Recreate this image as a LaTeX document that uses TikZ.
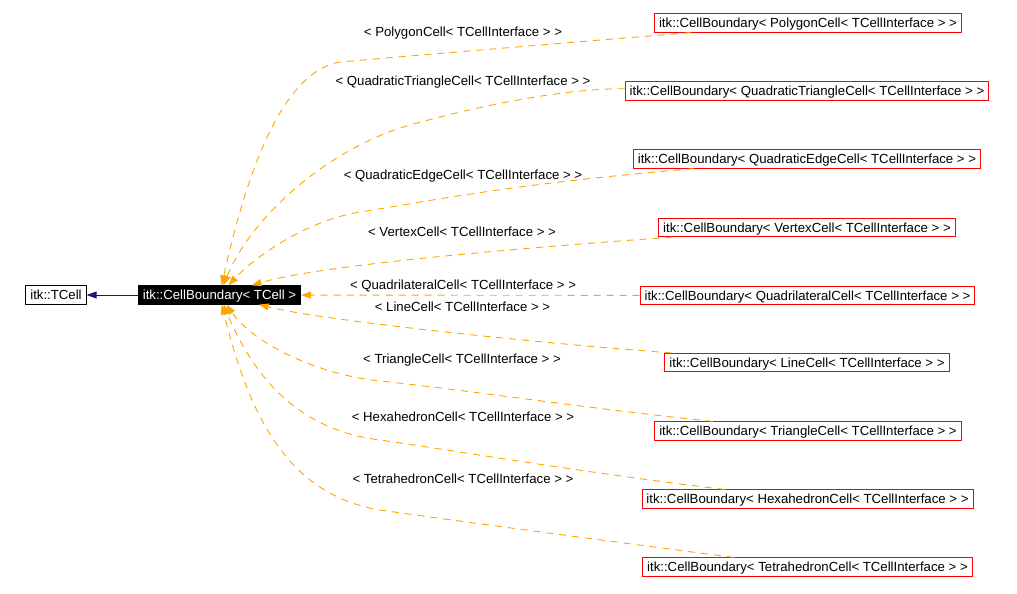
\documentclass[tikz,border=0pt]{standalone}
\usepackage{fontspec}
\setmainfont{Liberation Sans}
\usetikzlibrary{arrows.meta}
\definecolor{edgeorange}{HTML}{FFA500}
\definecolor{inhblue}{HTML}{191970}
\tikzset{
    basebox/.style={draw=black, rectangle, fill=white, font=\fontsize{13.2}{15}\selectfont, inner xsep=4.5pt, inner ysep=0pt, minimum height=18.3pt, text height=9.5pt, text depth=0pt, line width=0.9pt},
    mainbox/.style={basebox, fill=black, text=white},
    instbox/.style={basebox, draw=red},
    edgelabel/.style={font=\fontsize{13.2}{15}\selectfont, inner sep=0pt, text height=9.5pt, text depth=0pt},
    tmplArrow/.style={draw=edgeorange, line width=0.9pt, dash pattern=on 7pt off 6pt, -{Triangle[length=10pt, width=7pt, fill=edgeorange]}},
    inhArrow/.style={draw=inhblue, line width=0.9pt, -{Triangle[length=10pt, width=7pt, fill=inhblue]}},
}

\begin{document}
\begin{tikzpicture}[x=1pt, y=-1pt]
\useasboundingbox (0,0) rectangle (1017,594);

% base classes
\node[basebox] (tcell) at (56,295) {itk::TCell};
\node[mainbox] (cb) at (219.5,295) {itk::CellBoundary< TCell >};
\draw[inhArrow] (cb) -- (tcell);

% instantiations
\node[instbox] (poly) at (808,23) {itk::CellBoundary< PolygonCell< TCellInterface > >};
\node[instbox] (qtri) at (807,91) {itk::CellBoundary< QuadraticTriangleCell< TCellInterface > >};
\node[instbox] (qedge) at (807,159) {itk::CellBoundary< QuadraticEdgeCell< TCellInterface > >};
\node[instbox] (vertex) at (807,227.5) {itk::CellBoundary< VertexCell< TCellInterface > >};
\node[instbox] (quad) at (807.5,295.5) {itk::CellBoundary< QuadrilateralCell< TCellInterface > >};
\node[instbox] (line) at (807,362.5) {itk::CellBoundary< LineCell< TCellInterface > >};
\node[instbox] (tri) at (808,431) {itk::CellBoundary< TriangleCell< TCellInterface > >};
\node[instbox] (hexa) at (807.5,499) {itk::CellBoundary< HexahedronCell< TCellInterface > >};
\node[instbox] (tetra) at (807.5,567) {itk::CellBoundary< TetrahedronCell< TCellInterface > >};

% template edges
\draw[tmplArrow] (poly) .. controls (600,40) and (420,55) .. (340,62) .. controls (280,72) and (245,180) .. (cb);
\draw[tmplArrow] (qtri) .. controls (560,88) and (460,110) .. (400,128) .. controls (320,155) and (250,220) .. (cb);
\draw[tmplArrow] (qedge) .. controls (500,185) and (420,203) .. (360,212) .. controls (300,222) and (250,262) .. (cb);
\draw[tmplArrow] (vertex) .. controls (520,248) and (320,265) .. (cb);
\draw[tmplArrow] (quad) -- (cb);
\draw[tmplArrow] (line) .. controls (560,345) and (330,322) .. (cb);
\draw[tmplArrow] (tri) .. controls (600,410) and (450,388) .. (380,381) .. controls (320,375) and (255,345) .. (cb);
\draw[tmplArrow] (hexa) .. controls (600,475) and (450,450) .. (380,440) .. controls (300,430) and (255,380) .. (cb);
\draw[tmplArrow] (tetra) .. controls (600,540) and (450,520) .. (380,510) .. controls (290,495) and (250,420) .. (cb);

% edge labels
\node[edgelabel] (lpoly) at (463,31.5) {< PolygonCell< TCellInterface > >};
\node[edgelabel] (lqtri) at (463,81) {< QuadraticTriangleCell< TCellInterface > >};
\node[edgelabel] (lqedge) at (463,174.5) {< QuadraticEdgeCell< TCellInterface > >};
\node[edgelabel] (lvertex) at (462,231.5) {< VertexCell< TCellInterface > >};
\node[edgelabel] (lquad) at (463,285) {< QuadrilateralCell< TCellInterface > >};
\node[edgelabel] (lline) at (462.5,306.5) {< LineCell< TCellInterface > >};
\node[edgelabel] (ltri) at (462,359) {< TriangleCell< TCellInterface > >};
\node[edgelabel] (lhexa) at (463,417) {< HexahedronCell< TCellInterface > >};
\node[edgelabel] (ltetra) at (463,479) {< TetrahedronCell< TCellInterface > >};

\end{tikzpicture}
\end{document}
